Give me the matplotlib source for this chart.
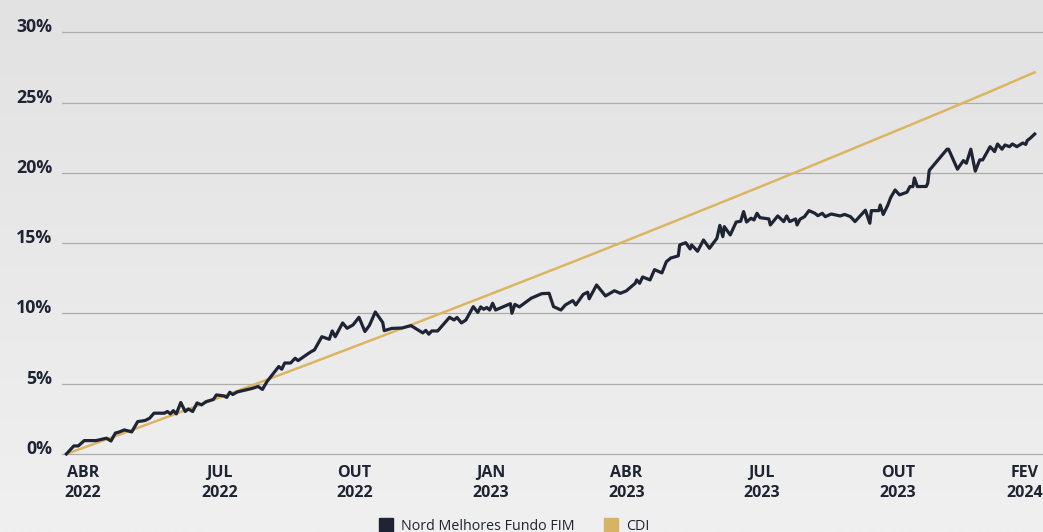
import numpy as np
import matplotlib.pyplot as plt
from matplotlib.lines import Line2D

plt.rcParams['font.family'] = ['Open Sans', 'DejaVu Sans']

# Days since 2022-03-21 and cumulative return (%) of the fund
fund_days = [0, 5, 8, 12, 20, 27, 30, 33, 35, 39,
             44, 48, 53, 56, 59, 66, 68, 70, 72, 74,
             77, 80, 82, 85, 88, 91, 94, 99, 101, 106,
             108, 110, 112, 115, 125, 129, 132, 135, 143, 145,
             147, 151, 154, 156, 162, 165, 167, 172, 177, 179,
             181, 186, 189, 193, 197, 201, 204, 208, 213, 214,
             219, 226, 232, 240, 242, 244, 246, 250, 258, 261,
             263, 266, 269, 274, 277, 279, 281, 283, 285, 287,
             289, 299, 300, 302, 305, 313, 320, 325, 328, 333,
             336, 341, 343, 348, 351, 352, 357, 363, 369, 373,
             377, 383, 384, 386, 388, 393, 396, 401, 404, 407,
             412, 413, 417, 420, 421, 425, 429, 433, 438, 440,
             442, 443, 447, 451, 454, 456, 458, 461, 463, 465,
             467, 473, 474, 479, 483, 485, 487, 491, 492, 494,
             497, 500, 504, 506, 509, 511, 515, 521, 524, 528,
             531, 538, 541, 542, 547, 548, 550, 553, 555, 558,
             561, 566, 568, 570, 571, 573, 579, 580, 581, 593,
             594, 600, 604, 606, 609, 612, 615, 617, 622, 625,
             627, 630, 632, 635, 637, 640, 644, 646, 647, 649, 652]
fund_pct = [0.00, 0.57, 0.57, 0.95, 0.95, 1.12, 0.92, 1.49, 1.54, 1.71,
            1.57, 2.30, 2.38, 2.54, 2.90, 2.90, 3.02, 2.85, 3.08, 2.85,
            3.66, 3.02, 3.20, 3.02, 3.63, 3.49, 3.72, 3.88, 4.20, 4.13,
            4.02, 4.39, 4.23, 4.41, 4.66, 4.80, 4.59, 5.14, 6.22, 6.03,
            6.47, 6.47, 6.81, 6.64, 7.08, 7.29, 7.40, 8.34, 8.16, 8.75,
            8.34, 9.32, 8.94, 9.18, 9.72, 8.71, 9.14, 10.10, 9.35, 8.77,
            8.93, 8.96, 9.13, 8.61, 8.79, 8.52, 8.75, 8.75, 9.72, 9.53,
            9.71, 9.32, 9.53, 10.48, 10.07, 10.46, 10.29, 10.42, 10.24, 10.72,
            10.24, 10.69, 10.01, 10.64, 10.46, 11.08, 11.40, 11.43, 10.48, 10.24,
            10.60, 10.91, 10.60, 11.35, 11.51, 11.04, 12.02, 11.24, 11.61, 11.43,
            11.60, 12.14, 12.38, 12.14, 12.59, 12.38, 13.11, 12.88, 13.68, 13.94,
            14.09, 14.87, 15.03, 14.58, 14.87, 14.42, 15.22, 14.63, 15.34, 16.26,
            15.46, 16.17, 15.58, 16.50, 16.55, 17.24, 16.50, 16.77, 16.65, 17.12,
            16.81, 16.72, 16.29, 16.93, 16.53, 16.93, 16.53, 16.72, 16.29, 16.70,
            16.88, 17.31, 17.12, 16.95, 17.12, 16.88, 17.07, 16.93, 17.04, 16.88,
            16.53, 17.34, 16.41, 17.31, 17.31, 17.71, 17.04, 17.68, 18.23, 18.78,
            18.43, 18.62, 19.02, 19.02, 19.63, 19.02, 19.03, 19.26, 20.17, 21.68,
            21.68, 20.26, 20.87, 20.68, 21.68, 20.12, 20.92, 20.92, 21.86, 21.51,
            22.05, 21.68, 21.98, 21.86, 22.05, 21.86, 22.12, 22.02, 22.30, 22.46, 22.76]

# CDI, roughly month by month
cdi_days = [0, 11, 41, 72, 102, 133, 164, 194, 225, 255, 286, 317,
            345, 376, 406, 437, 467, 498, 529, 559, 590, 620, 652]
cdi_pct = [0.00, 0.42, 1.58, 2.79, 3.97, 5.20, 6.43, 7.64, 8.89, 10.12, 11.39, 12.67,
           13.83, 15.13, 16.40, 17.72, 19.00, 20.34, 21.69, 23.00, 24.36, 25.69, 27.15]

tick_days = [11, 103, 194, 286, 377, 468, 560, 645]
tick_labels = ['ABR\n2022', 'JUL\n2022', 'OUT\n2022', 'JAN\n2023',
               'ABR\n2023', 'JUL\n2023', 'OUT\n2023', 'FEV\n2024']
y_ticks = [0, 5, 10, 15, 20, 25, 30]

navy = '#1e2433'
gold = '#dbb563'

fig = plt.figure(figsize=(10.43, 5.32), dpi=100)

# light gray vertical gradient background
bg = fig.add_axes([0, 0, 1, 1], zorder=-1)
grad = np.linspace(0, 1, 256).reshape(-1, 1)
bg.imshow(grad, aspect='auto', cmap=plt.matplotlib.colors.LinearSegmentedColormap.from_list(
    'bg', ['#e2e2e2', '#f0f0f0']), extent=[0, 1, 0, 1], origin='upper')
bg.axis('off')

ax = fig.add_axes([0.0594, 0.1335, 0.9406, 0.8191])
ax.set_facecolor('none')
ax.plot(cdi_days, cdi_pct, color=gold, lw=1.8, zorder=3)
ax.plot(fund_days, fund_pct, color=navy, lw=2.3, zorder=4)

ax.set_xlim(-3.0, 657.6)
ax.set_ylim(-0.5, 30.5)
ax.set_yticks(y_ticks)
ax.set_yticklabels([f'{v}%' for v in y_ticks], fontsize=12.8, fontweight='bold',
                   color=navy, va='baseline')
ax.set_xticks(tick_days)
ax.set_xticklabels(tick_labels, fontsize=11.5, fontweight='bold', color=navy,
                   linespacing=1.3)
ax.tick_params(axis='y', length=0, pad=7)
ax.tick_params(axis='x', length=0, pad=3)
ax.grid(axis='y', color='#adadad', lw=0.9)
ax.set_axisbelow(True)
for s in ax.spines.values():
    s.set_visible(False)

handles = [Line2D([], [], marker='s', ls='', color=navy, markersize=10.5),
           Line2D([], [], marker='s', ls='', color='#d6b463', markersize=10.5)]
fig.legend(handles, ['Nord Melhores Fundo FIM', 'CDI'], loc='center',
           bbox_to_anchor=(0.493, 0.011), ncol=2, frameon=False,
           fontsize=10.3, labelcolor=navy, handletextpad=0.6, columnspacing=2.0,
           handlelength=1.0)

fig.savefig('out.png', dpi=100)
